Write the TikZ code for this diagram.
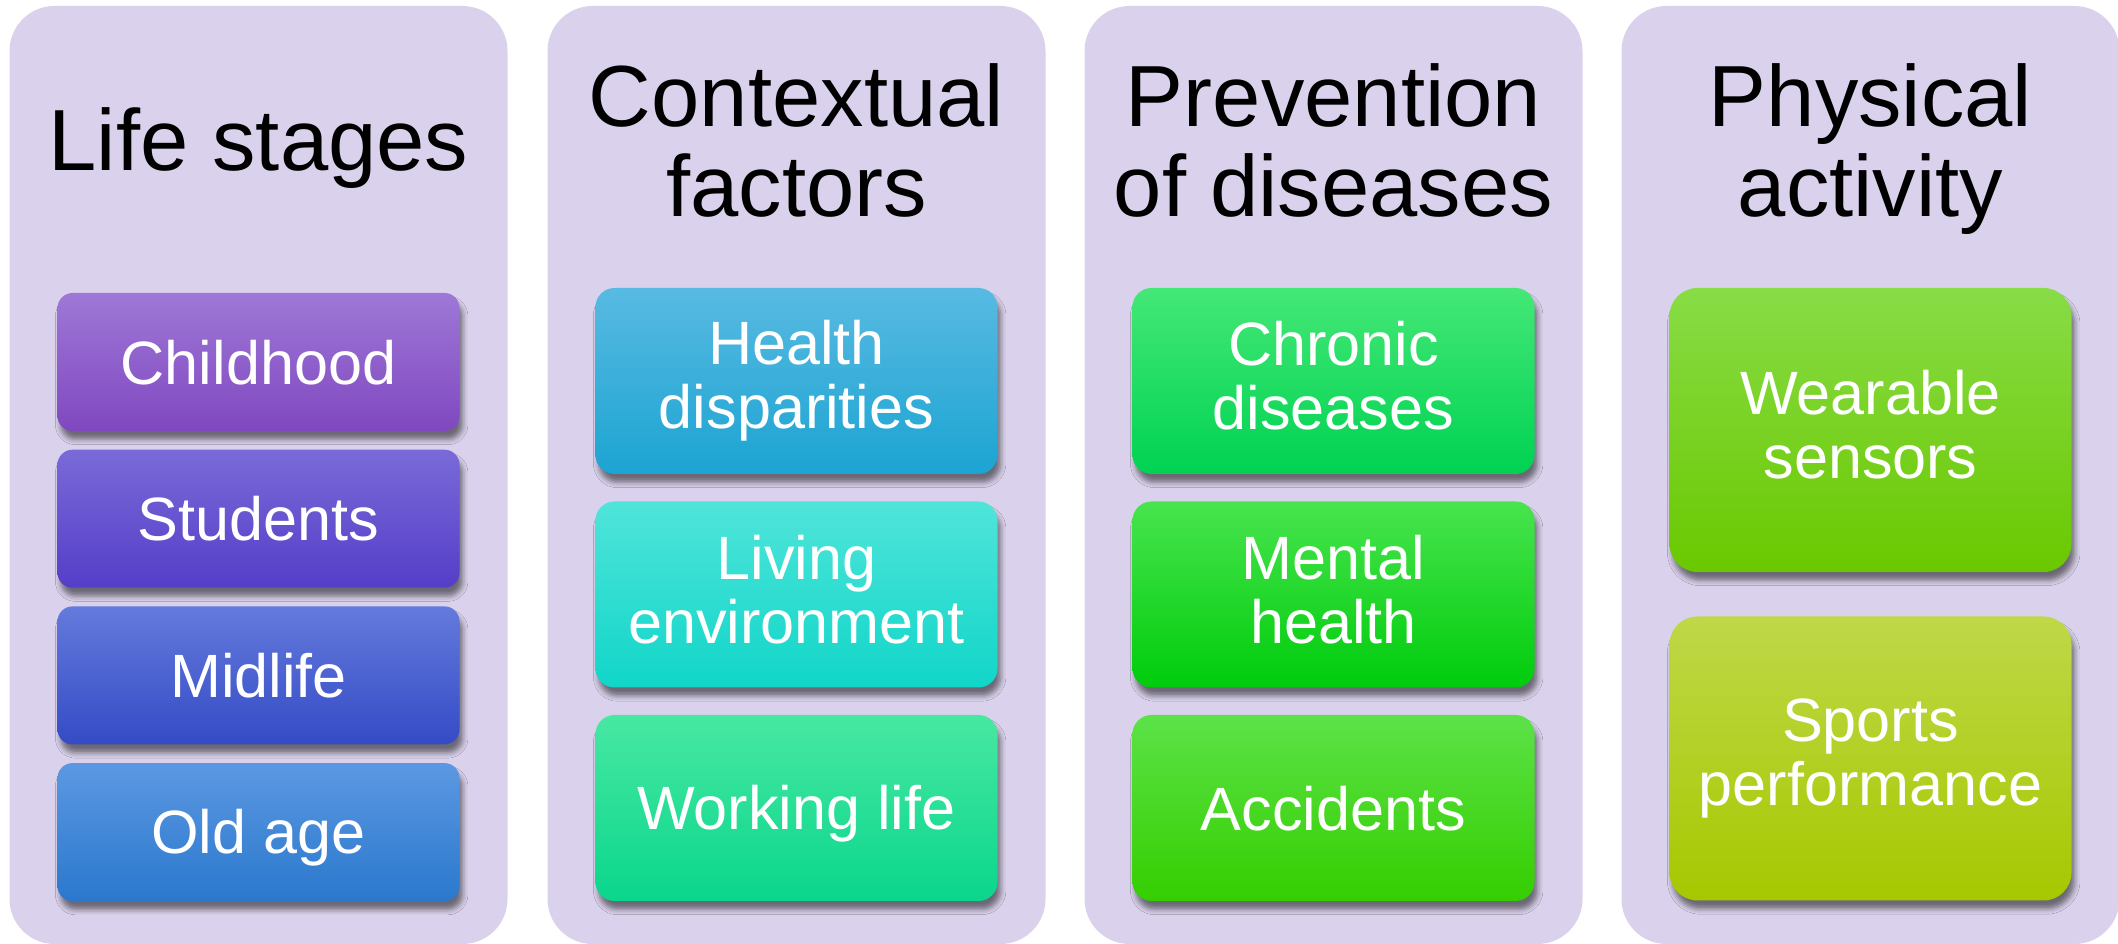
\documentclass[tikz,border=0pt]{standalone}
\usepackage{fontspec}
\setmainfont{Liberation Sans}
\usepackage{tikz}
\usetikzlibrary{shadows.blur}
\definecolor{panelfill}{RGB}{218,210,236}
\newcommand{\itemstrut}{\rule[-0.18em]{0pt}{1.08em}}
\tikzset{
  panel/.style = {fill=panelfill, rounded corners=0.45cm, minimum width=4.98cm, minimum height=9.38cm, inner sep=0pt},
  head/.style = {anchor=north, align=center, inner sep=0pt, text=black, font=\fontsize{24.7pt}{25.6pt}\selectfont},
  item/.style 2 args = {align=center, text=white, inner sep=0pt, minimum width=4.02cm,
    top color=#1, bottom color=#2, font=\fontsize{17.4pt}{18.2pt}\selectfont,
    execute at begin node=\itemstrut, execute at end node=\itemstrut,
    blur shadow={shadow xshift=0.9pt, shadow yshift=-2.4pt, shadow blur radius=1.5pt, shadow opacity=50}},
  boxS/.style = {minimum height=1.38cm, rounded corners=0.15cm},
  boxM/.style = {minimum height=1.86cm, rounded corners=0.19cm},
  boxL/.style = {minimum height=2.84cm, rounded corners=0.28cm}
}

\begin{document}
\begin{tikzpicture}
  \useasboundingbox (0,0) rectangle (21.18,9.44);

  \definecolor{childT}{RGB}{158,120,215}  \definecolor{childB}{RGB}{128,72,192}
  \definecolor{studT}{RGB}{122,106,216}   \definecolor{studB}{RGB}{84,62,200}
  \definecolor{midT}{RGB}{100,122,220}    \definecolor{midB}{RGB}{52,75,198}
  \definecolor{oldT}{RGB}{92,152,226}     \definecolor{oldB}{RGB}{42,120,205}
  \definecolor{healthT}{RGB}{88,186,226}  \definecolor{healthB}{RGB}{28,164,210}
  \definecolor{livingT}{RGB}{80,228,218}  \definecolor{livingB}{RGB}{16,214,200}
  \definecolor{workT}{RGB}{72,232,162}    \definecolor{workB}{RGB}{10,214,140}
  \definecolor{chronT}{RGB}{68,232,118}   \definecolor{chronB}{RGB}{0,210,82}
  \definecolor{mentT}{RGB}{72,228,78}     \definecolor{mentB}{RGB}{0,204,12}
  \definecolor{accT}{RGB}{92,226,72}      \definecolor{accB}{RGB}{52,206,0}
  \definecolor{wearT}{RGB}{136,220,70}    \definecolor{wearB}{RGB}{106,200,0}
  \definecolor{sportT}{RGB}{190,216,72}   \definecolor{sportB}{RGB}{166,200,0}

  % columns
  \node[panel] (panelA) at (2.585,4.69)  {};
  \node[panel] (panelB) at (7.965,4.69)  {};
  \node[panel] (panelC) at (13.335,4.69) {};
  \node[panel] (panelD) at (18.705,4.69) {};

  % headings
  \node[head] (stages)     at (2.585,8.37)  {Life stages};
  \node[head] (context)    at (7.965,8.81)  {Contextual\\factors};
  \node[head] (prevention) at (13.335,8.81) {Prevention\\of diseases};
  \node[head] (physical)   at (18.705,8.81) {Physical\\activity};

  % life stages
  \node[item={childT}{childB}, boxS] (childhood) at (2.585,5.82)  {Childhood};
  \node[item={studT}{studB}, boxS]   (students)  at (2.585,4.253) {Students};
  \node[item={midT}{midB}, boxS]     (midlife)   at (2.585,2.686) {Midlife};
  \node[item={oldT}{oldB}, boxS]     (oldage)    at (2.585,1.119) {Old age};

  % contextual factors
  \node[item={healthT}{healthB}, boxM] (disparities) at (7.965,5.63)  {Health\\disparities};
  \node[item={livingT}{livingB}, boxM] (living)      at (7.965,3.495) {Living\\environment};
  \node[item={workT}{workB}, boxM]     (working)     at (7.965,1.36)  {Working life};

  % prevention of diseases
  \node[item={chronT}{chronB}, boxM] (chronic)   at (13.335,5.63)  {Chronic\\diseases};
  \node[item={mentT}{mentB}, boxM]   (mental)    at (13.335,3.495) {Mental\\health};
  \node[item={accT}{accB}, boxM]     (accidents) at (13.335,1.36)  {Accidents};

  % physical activity
  \node[item={wearT}{wearB}, boxL]   (wearable) at (18.705,5.14)  {Wearable\\sensors};
  \node[item={sportT}{sportB}, boxL] (sports)   at (18.705,1.855) {Sports\\performance};
\end{tikzpicture}
\end{document}
